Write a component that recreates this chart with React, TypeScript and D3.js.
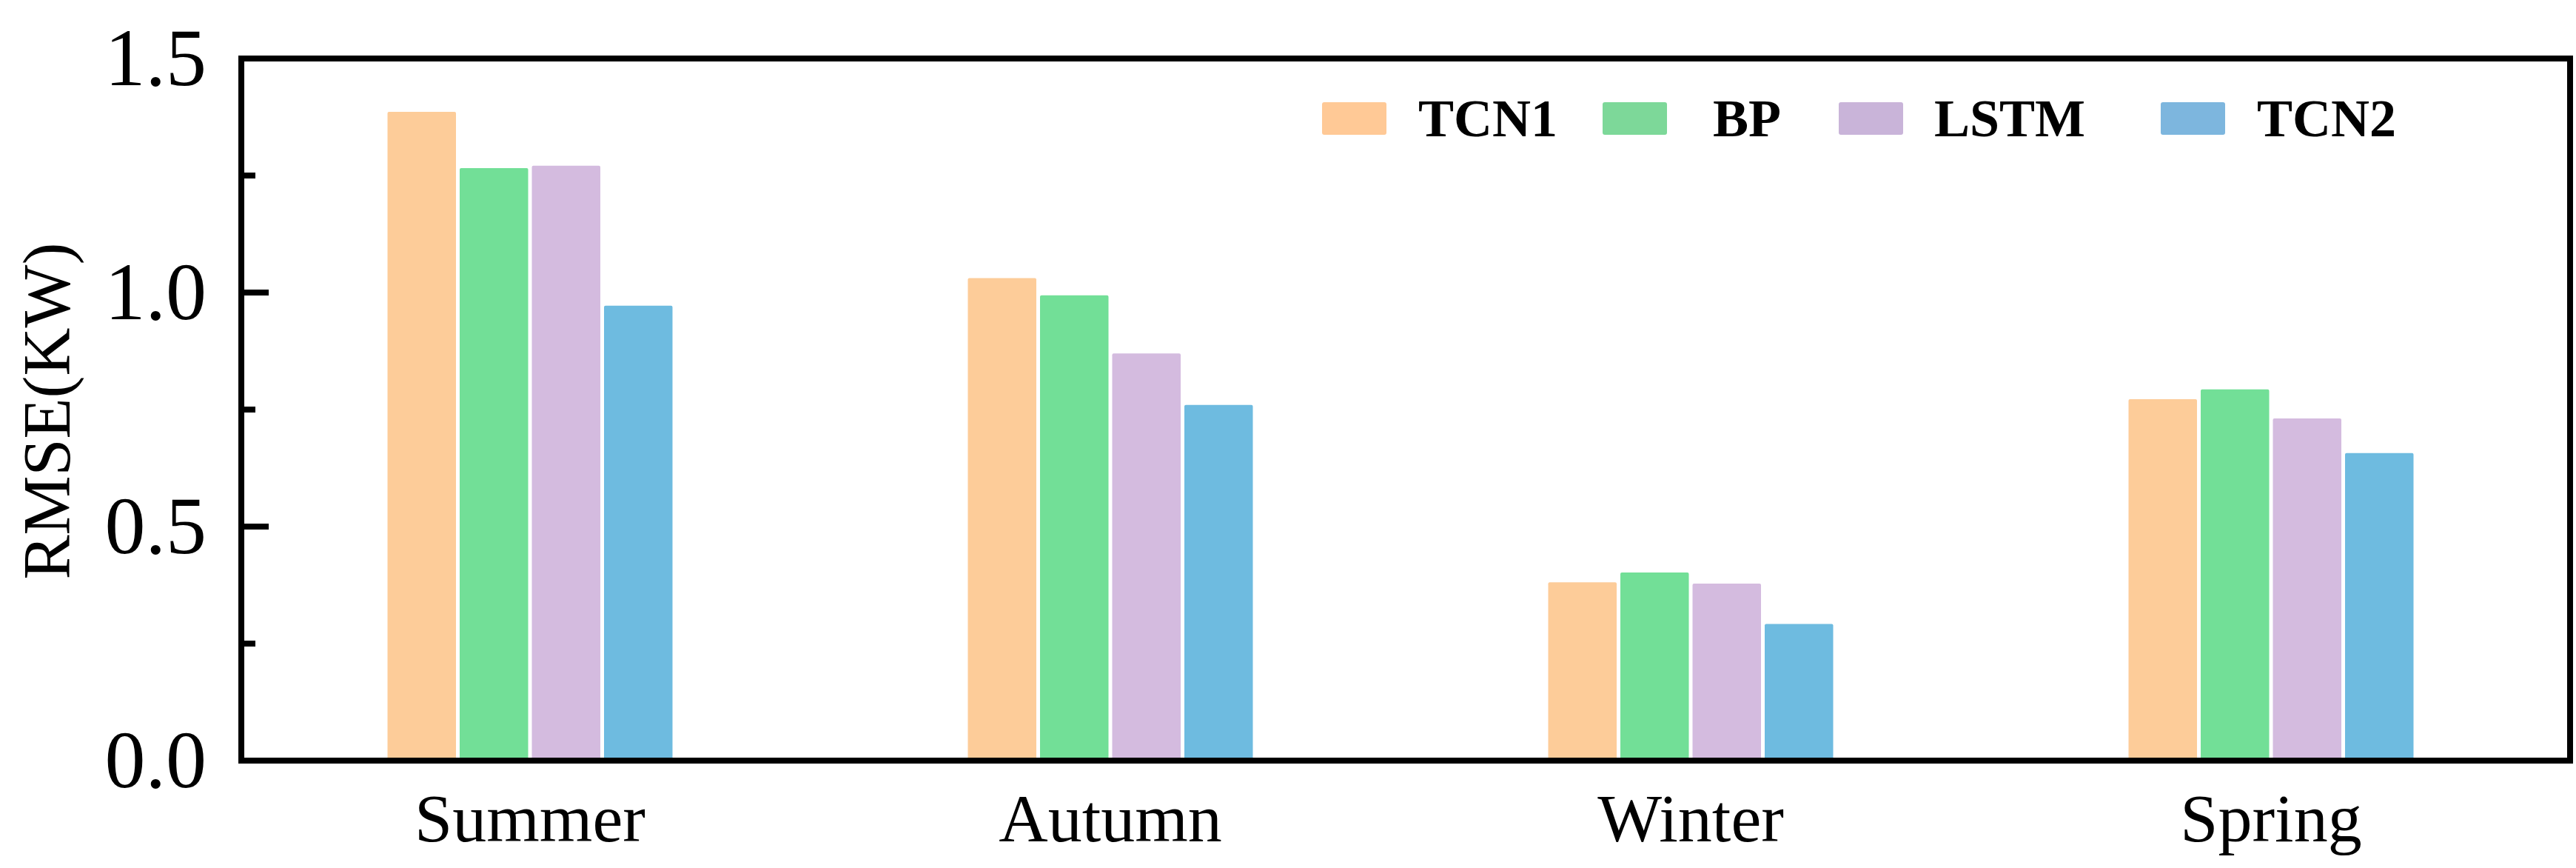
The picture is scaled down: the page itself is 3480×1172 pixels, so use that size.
import React from 'react';
import * as d3 from 'd3';

const seasons = ['Summer', 'Autumn', 'Winter', 'Spring'];
const models = ['TCN1', 'BP', 'LSTM', 'TCN2'];
const tcn1 = [1.386, 1.031, 0.381, 0.772];
const bp = [1.266, 0.994, 0.402, 0.793];
const lstm = [1.271, 0.870, 0.378, 0.731];
const tcn2 = [0.972, 0.760, 0.292, 0.657];
const yTicks = [0, 0.5, 1.0, 1.5];
const yMinorTicks = [0.25, 0.75, 1.25];

const barColors = ['#FDCC99', '#72DF97', '#D4BBDF', '#6EBBE0'];
const legendColors = ['#FFC996', '#7DD899', '#C9B4D9', '#7DB6DE'];

const W = 3480;
const H = 1172;
const left = 326;
const right = 3472;
const top = 79;
const bottom = 1027;
const font = '"Liberation Serif", "Times New Roman", serif';

// legend item placement (swatch left edge, text left edge)
const legendSwatchX = [1786, 2165, 2484, 2919];
const legendTextX = [1916, 2314, 2613, 3049];

const App = () => {
    const series = [tcn1, bp, lstm, tcn2];

    const x0 = d3.scaleBand().domain(seasons).range([324, 3460]).padding(0);
    const x1 = d3.scaleBand().domain(models).range([-195, 195]).padding(0);
    const y = d3.scaleLinear().domain([0, 1.5]).range([bottom, top]);

    const gap = 5;

    return (
        <svg width={W} height={H} style={{ position: 'absolute', left: 0, top: 0, display: 'block', background: '#fff' }}>
            <rect x={0} y={0} width={W} height={H} fill="#fff" />

            {/* bars */}
            {seasons.map((s, si) => (
                <g key={s} transform={`translate(${x0(s) + x0.bandwidth() / 2},0)`}>
                    {models.map((m, mi) => {
                        const v = series[mi][si];
                        return (
                            <rect
                                key={m}
                                x={x1(m) + gap / 2}
                                y={y(v)}
                                width={x1.bandwidth() - gap}
                                height={y(0) - y(v)}
                                fill={barColors[mi]}
                                rx={2}
                            />
                        );
                    })}
                </g>
            ))}

            {/* frame */}
            <rect x={left} y={top} width={right - left} height={bottom - top} fill="none" stroke="#000" strokeWidth={8} />

            {/* y ticks */}
            {yTicks.map(t => (
                <g key={t}>
                    <line x1={left} x2={left + 37} y1={y(t)} y2={y(t)} stroke="#000" strokeWidth={8} />
                    <text x={279} y={y(t) + 36} textAnchor="end" fontFamily={font} fontSize={110} fill="#000">
                        {d3.format('.1f')(t)}
                    </text>
                </g>
            ))}
            {yMinorTicks.map(t => (
                <line key={t} x1={left} x2={left + 19} y1={y(t)} y2={y(t)} stroke="#000" strokeWidth={8} />
            ))}

            {/* y label */}
            <text transform="translate(94,555) rotate(-90)" textAnchor="middle" fontFamily={font} fontSize={90} fill="#000">
                RMSE(KW)
            </text>

            {/* x labels */}
            {seasons.map(s => (
                <text key={s} x={x0(s) + x0.bandwidth() / 2} y={1136} textAnchor="middle" fontFamily={font} fontSize={92} fill="#000">
                    {s}
                </text>
            ))}

            {/* legend */}
            {models.map((m, i) => (
                <g key={m}>
                    <rect x={legendSwatchX[i]} y={138} width={87} height={44} rx={3} fill={legendColors[i]} />
                    <text x={legendTextX[i]} y={184} fontFamily={font} fontWeight="bold" fontSize={72} fill="#000">
                        {m}
                    </text>
                </g>
            ))}
        </svg>
    );
};

export default App;
